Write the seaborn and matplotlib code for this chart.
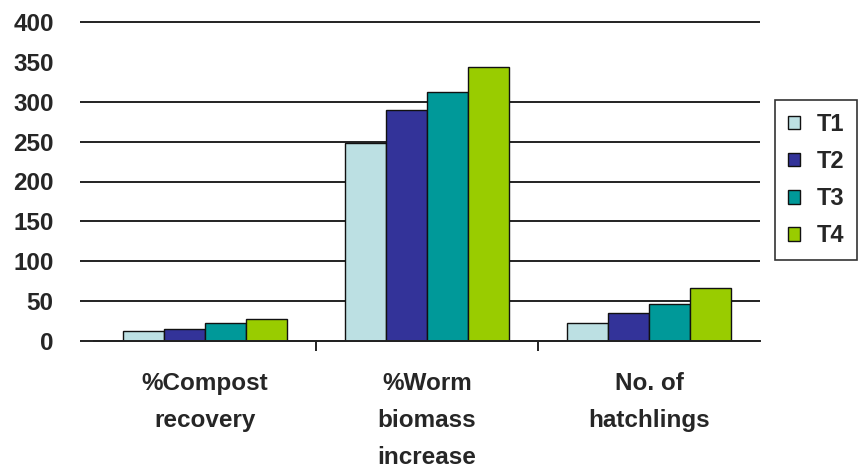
import matplotlib
matplotlib.use("Agg")
import matplotlib.pyplot as plt
from matplotlib.patches import Patch
import numpy as np
import pandas as pd
import seaborn as sns

# Data
categories = ["%Compost\nrecovery", "%Worm\nbiomass\nincrease", "No. of\nhatchlings"]
treatments = ["T1", "T2", "T3", "T4"]
t1 = [13, 248, 23]
t2 = [15, 290, 35]
t3 = [23, 312, 46]
t4 = [27, 344, 67]
colors = ["#BCE0E3", "#333399", "#009999", "#99CC00"]
yticks = [0, 50, 100, 150, 200, 250, 300, 350, 400]
grid_levels = [0, 50, 100, 150, 200, 250, 300, 400]

rows = []
for name, vals in zip(treatments, [t1, t2, t3, t4]):
    for cat, v in zip(categories, vals):
        rows.append({"category": cat, "treatment": name, "value": v})
df = pd.DataFrame(rows)

sns.set_style("white")
plt.rcParams["font.family"] = ["Liberation Sans", "DejaVu Sans"]
plt.rcParams["font.weight"] = "bold"

fig = plt.figure(figsize=(8.62, 4.74), dpi=100)
ax = fig.add_axes([94 / 862, 133 / 474, 666 / 862, 319 / 474])

# Horizontal gridlines, each extended left as an outward tick mark
ax.hlines(grid_levels, -14 / 666, 1, transform=ax.get_yaxis_transform(),
          colors="#222222", lw=1.4, zorder=0, clip_on=False)

sns.barplot(data=df, x="category", y="value", hue="treatment",
            palette=colors, saturation=1, width=0.735, edgecolor="#111111",
            linewidth=1.0, legend=False, ax=ax, zorder=2)

ax.set_ylim(0, 400)
ax.set_xlim(-0.5, 2.5)
ax.set_xlabel("")
ax.set_ylabel("")

ax.set_yticks(yticks)
ax.set_yticklabels([str(v) for v in yticks], fontsize=17.5, fontweight="bold")
ax.tick_params(axis="y", length=0, pad=29)

# X axis: tick marks between categories, labels under each group
ax.set_xticks([0.5, 1.5])
ax.set_xticklabels(["", ""])
ax.tick_params(axis="x", length=7, width=1.4, color="#222222", bottom=True, direction="out")
ax.set_xticks([0, 1, 2], minor=True)
ax.set_xticklabels(categories, minor=True, fontsize=17.5, fontweight="bold",
                   linespacing=1.78, va="top")
ax.tick_params(axis="x", which="minor", length=0, pad=22)

for side in ["top", "right", "left"]:
    ax.spines[side].set_visible(False)
ax.spines["bottom"].set_color("#222222")
ax.spines["bottom"].set_linewidth(1.4)
ax.spines["bottom"].set_zorder(3)

handles = [Patch(facecolor=c, edgecolor="#111111", linewidth=1.0) for c in colors]
leg = fig.legend(handles, treatments, loc="upper left",
                 bbox_to_anchor=(775 / 862, 1 - 100 / 474), borderaxespad=0,
                 frameon=True, fancybox=False, edgecolor="black",
                 prop={"size": 17, "weight": "bold"},
                 handlelength=0.5, handleheight=0.5, handletextpad=0.7,
                 labelspacing=0.6, borderpad=0.55)
leg.get_frame().set_linewidth(1.2)

fig.savefig("out.png", dpi=100)
